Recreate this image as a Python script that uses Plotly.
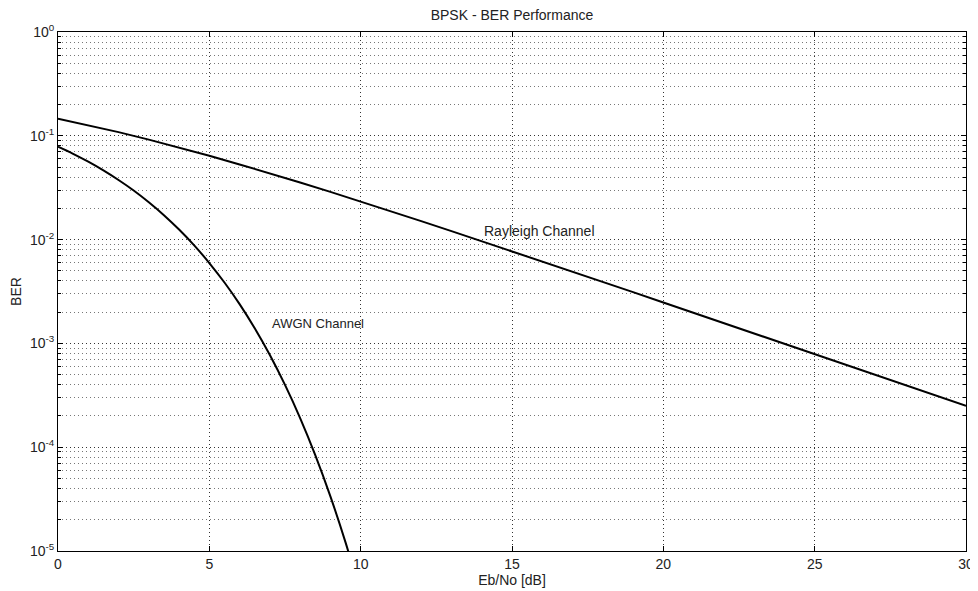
import plotly.graph_objects as go

# Eb/No (dB) sample points
ebno_awgn = [0, 0.5, 1, 1.5, 2, 2.5, 3, 3.5, 4, 4.5, 5, 5.5, 6, 6.5, 7, 7.5, 8, 8.5, 9, 9.5, 10]
ber_awgn = [0.0786, 0.0671, 0.0563, 0.0464, 0.0375, 0.0297, 0.0229, 0.0172, 0.0125, 0.0088,
            0.00595, 0.00386, 0.00239, 0.0014, 0.000773, 0.000398, 0.000191, 8.4e-5, 3.36e-5,
            1.21e-5, 3.87e-6]

ebno_rayleigh = list(range(0, 31))
ber_rayleigh = [0.1464, 0.1267, 0.1085, 0.0919, 0.0771, 0.0642, 0.0530, 0.0435, 0.0355, 0.0288,
                0.0233, 0.01875, 0.01507, 0.01208, 0.00966, 0.00772, 0.00616, 0.00491, 0.00392,
                0.00312, 0.00248, 0.00197, 0.00157, 0.00125, 0.000993, 0.000789, 0.000627,
                0.000498, 0.000396, 0.000315, 0.00025]

x_ticks = [0, 5, 10, 15, 20, 25, 30]
y_ticks = [1e-5, 1e-4, 1e-3, 1e-2, 1e-1, 1]
y_ticktext = ["10<sup>-5</sup>", "10<sup>-4</sup>", "10<sup>-3</sup>", "10<sup>-2</sup>",
              "10<sup>-1</sup>", "10<sup>0</sup>"]
y_minor = [m * 10.0 ** e for e in range(-5, 0) for m in range(2, 10)]

title_text = "BPSK - BER Performance"
x_label = "Eb/No [dB]"
y_label = "BER"

FONT = "Liberation Sans, Arial, sans-serif"
TXT = "#222222"
DOT = "1px,3px"

# the page body adds an 8px margin, so the figure is sized to fit inside it
W, H = 970, 583

fig = go.Figure()
fig.add_trace(go.Scatter(x=ebno_rayleigh, y=ber_rayleigh, mode="lines",
                         line=dict(color="black", width=2), showlegend=False))
fig.add_trace(go.Scatter(x=ebno_awgn, y=ber_awgn, mode="lines", line_shape="spline",
                         line=dict(color="black", width=2), showlegend=False))

fig.add_annotation(x=14, y=-1.92, text="Rayleigh Channel", showarrow=False,
                   xanchor="left", yanchor="middle", font=dict(family=FONT, size=14, color=TXT))
fig.add_annotation(x=7, y=-2.81, text="AWGN Channel", showarrow=False,
                   xanchor="left", yanchor="middle", font=dict(family=FONT, size=13, color=TXT))

fig.update_layout(
    width=W, height=H,
    margin=dict(l=50, r=12, t=24, b=40),
    paper_bgcolor="white", plot_bgcolor="white",
    font=dict(family=FONT, size=14, color=TXT),
    title=dict(text=title_text, x=0.5, xanchor="center", xref="paper",
               y=1 - 7 / H, yref="container", yanchor="middle",
               font=dict(family=FONT, size=14, color=TXT)),
)
fig.update_xaxes(
    range=[0, 30], tickvals=x_ticks, ticks="inside", ticklen=5, tickcolor="black",
    showline=True, linecolor="black", linewidth=1, mirror="ticks", automargin=False,
    showgrid=True, gridcolor="#333333", griddash=DOT, gridwidth=1, zeroline=False,
    title=dict(text=x_label, standoff=2, font=dict(family=FONT, size=14, color=TXT)),
    tickfont=dict(family=FONT, size=14, color=TXT),
)
fig.update_yaxes(
    type="log", range=[-5, 0], tickvals=y_ticks, ticktext=y_ticktext,
    ticks="inside", ticklen=5, tickcolor="black",
    showline=True, linecolor="black", linewidth=1, mirror="ticks", automargin=False,
    showgrid=True, gridcolor="#333333", griddash=DOT, gridwidth=1, zeroline=False,
    minor=dict(tickvals=y_minor, ticks="inside", ticklen=3, tickcolor="black",
               showgrid=True, gridcolor="#777777", griddash=DOT, gridwidth=1),
    title=dict(text=y_label, standoff=12, font=dict(family=FONT, size=14, color=TXT)),
    tickfont=dict(family=FONT, size=14, color=TXT),
)

fig.write_html("out.html")
